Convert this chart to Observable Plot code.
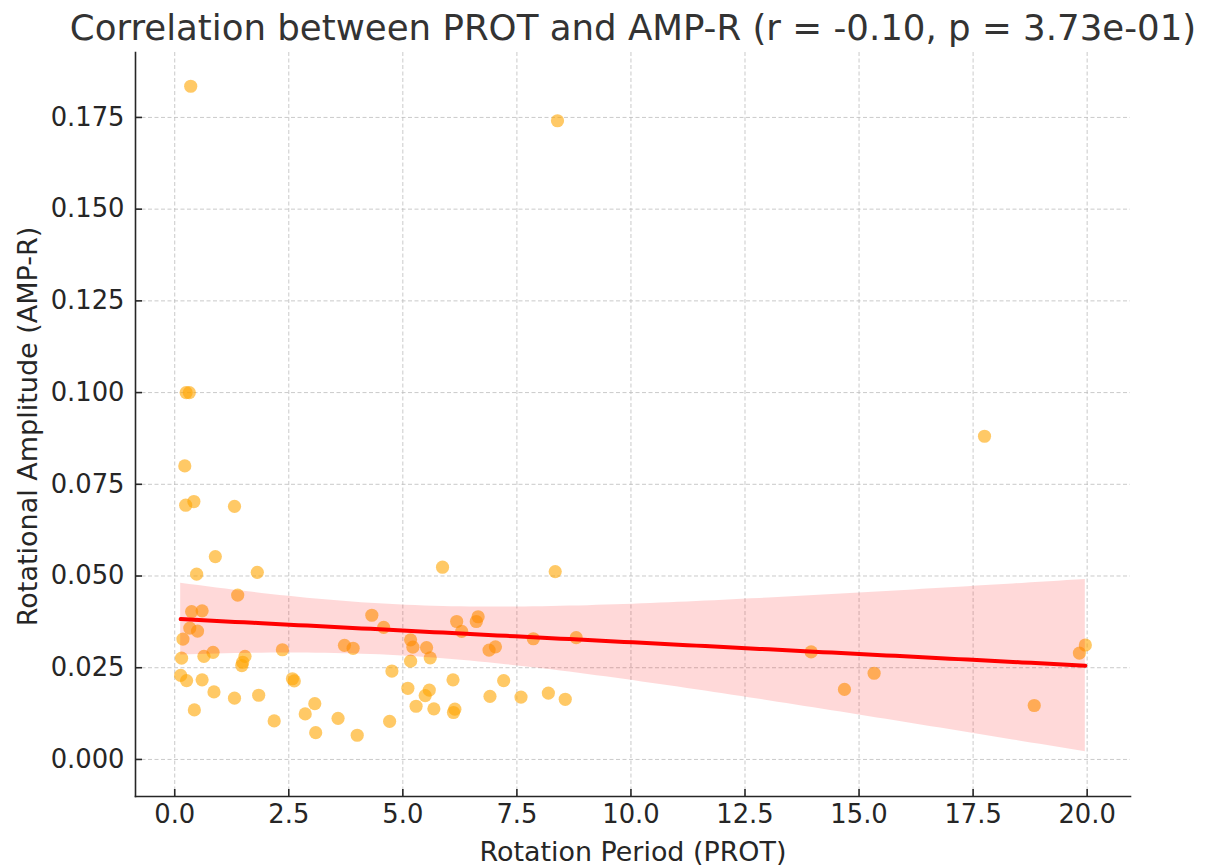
<!DOCTYPE html>
<html><head><meta charset="utf-8">
<script src="https://cdn.jsdelivr.net/npm/d3@7"></script>
<script src="https://cdn.jsdelivr.net/npm/@observablehq/plot@0.6"></script>
<style>body{margin:0;background:#fff}</style>
</head><body><div id="chart"></div>
<script>
// Rotation period (PROT) and rotational amplitude (AMP-R)
const prot = [0.22,0.24,0.42,1.31,0.89,0.48,1.81,1.38,0.37,0.60,0.33,0.50,0.18,0.15,0.64,0.84,1.47,1.54,1.49,2.36,
  0.13,0.26,0.60,2.58,2.62,0.86,1.31,1.84,0.43,2.18,2.86,3.07,3.09,3.58,4.00,4.32,4.58,3.72,3.91,4.76,
  4.71,5.87,8.34,5.17,5.22,5.52,5.60,5.17,6.18,6.29,6.61,6.65,6.89,7.03,7.86,8.80,5.11,5.58,5.49,5.29,
  5.68,6.10,6.14,6.11,6.91,7.21,7.59,8.19,8.56,17.75,13.95,14.68,15.33,18.84,19.83,19.96,0.35,8.39,0.25,0.32];
const ampR = [0.0800,0.0693,0.0703,0.0690,0.0553,0.0505,0.0510,0.0448,0.0403,0.0405,0.0358,0.0350,0.0328,0.0276,0.0281,0.0292,0.0256,0.0281,0.0265,0.0299,
  0.0229,0.0215,0.0217,0.0220,0.0214,0.0184,0.0167,0.0175,0.0135,0.0105,0.0124,0.0152,0.0073,0.0112,0.0066,0.0393,0.0360,0.0311,0.0303,0.0241,
  0.0104,0.0524,0.0512,0.0326,0.0306,0.0305,0.0277,0.0268,0.0376,0.0349,0.0376,0.0389,0.0298,0.0307,0.0329,0.0332,0.0194,0.0189,0.0174,0.0145,
  0.0138,0.0217,0.0137,0.0128,0.0172,0.0215,0.0170,0.0181,0.0164,0.0881,0.0293,0.0191,0.0235,0.0147,0.0290,0.0312,0.1835,0.1741,0.1000,0.1000];
const xTicks = [0, 2.5, 5, 7.5, 10, 12.5, 15, 17.5, 20];
const yTicks = [0, 0.025, 0.05, 0.075, 0.1, 0.125, 0.15, 0.175];
const title = "Correlation between PROT and AMP-R (r = -0.10, p = 3.73e-01)";
const xLabel = "Rotation Period (PROT)";
const yLabel = "Rotational Amplitude (AMP-R)";

const points = prot.map((x, i) => ({x, y: ampR[i]}));
const n = points.length;
const mx = d3.mean(prot), my = d3.mean(ampR);
const sxx = d3.sum(prot, x => (x - mx) ** 2);
const sxy = d3.sum(points, d => (d.x - mx) * (d.y - my));
const b = sxy / sxx, a = my - b * mx;
const s = Math.sqrt(d3.sum(points, d => (d.y - a - b * d.x) ** 2) / (n - 2));
const tval = 2.05;
const [xmin, xmax] = d3.extent(prot);
const fit = d3.range(0, 101).map(i => {
  const x = xmin + (xmax - xmin) * i / 100;
  const yh = a + b * x;
  const se = s * Math.sqrt(1 / n + (x - mx) ** 2 / sxx);
  return {x, y: yh, lo: yh - tval * se, hi: yh + tval * se};
});

const W = 1205, H = 868, mL = 135, mR = 75, mT = 52, mB = 72;
const frameW = W - mL - mR, frameH = H - mT - mB;
const axisColor = "#262626";

const chart = Plot.plot({
  width: W, height: H,
  marginLeft: mL, marginRight: mR, marginTop: mT, marginBottom: mB,
  style: {fontFamily: "DejaVu Sans", background: "#fff", color: axisColor},
  x: {domain: [-0.86, 20.95]},
  y: {domain: [-0.0101, 0.1927]},
  marks: [
    Plot.gridX(xTicks, {stroke: "#bdbdbd", strokeOpacity: 0.8, strokeDasharray: "4,2.5", strokeWidth: 1}),
    Plot.gridY(yTicks, {stroke: "#bdbdbd", strokeOpacity: 0.8, strokeDasharray: "4,2.5", strokeWidth: 1}),
    Plot.dot(points, {x: "x", y: "y", r: 6.6, fill: "#FFA500", fillOpacity: 0.6, stroke: "none"}),
    Plot.areaY(fit, {x: "x", y1: "lo", y2: "hi", fill: "red", fillOpacity: 0.15}),
    Plot.line(fit, {x: "x", y: "y", stroke: "red", strokeWidth: 4}),
    Plot.frame({anchor: "left", stroke: axisColor, strokeWidth: 1.6}),
    Plot.frame({anchor: "bottom", stroke: axisColor, strokeWidth: 1.6}),
    Plot.ruleX(xTicks, {stroke: axisColor, strokeWidth: 1.6, insetTop: frameH - 7}),
    Plot.ruleY(yTicks, {stroke: axisColor, strokeWidth: 1.6, insetRight: frameW - 7}),
    Plot.axisX(xTicks, {tickSize: 0, tickPadding: 8, fontSize: 25.8, tickFormat: d3.format(".1f"), label: null}),
    Plot.axisY(yTicks, {tickSize: 0, tickPadding: 11, fontSize: 25.8, tickFormat: d3.format(".3f"), label: null}),
    Plot.text([xLabel], {frameAnchor: "bottom", dy: 56, fontSize: 26.9, text: d => d, textAnchor: "middle", lineAnchor: "middle", fill: axisColor}),
    Plot.text([yLabel], {frameAnchor: "left", dx: -107, dy: 2, rotate: -90, fontSize: 27, text: d => d, textAnchor: "middle", lineAnchor: "middle", fill: axisColor}),
    Plot.text([title], {frameAnchor: "top", dy: -24, fontSize: 35.6, text: d => d, textAnchor: "middle", lineAnchor: "middle", fill: "#333"})
  ]
});
document.getElementById("chart").appendChild(chart);
</script>
</body></html>
